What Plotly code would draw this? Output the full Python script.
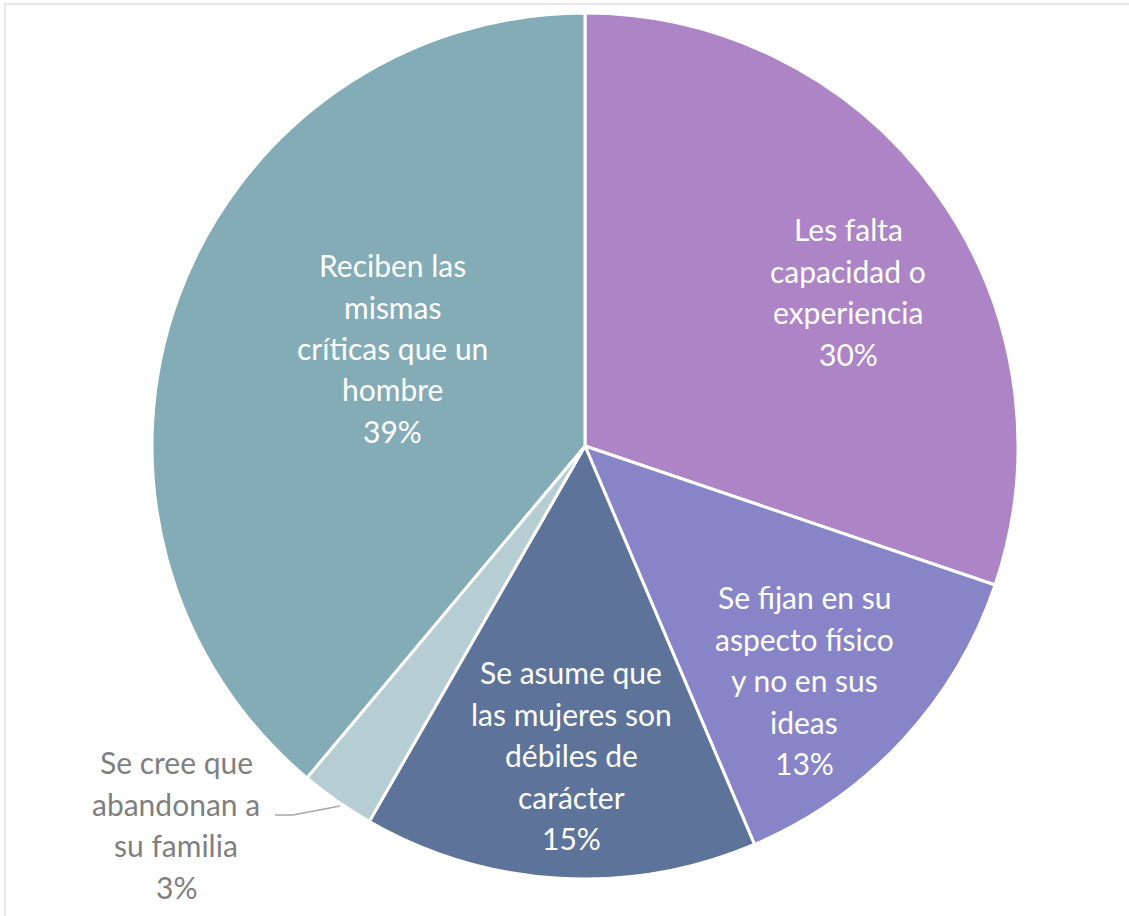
import plotly.graph_objects as go

W, H = 1129, 916

categories = [
    "Les falta capacidad o experiencia",
    "Se fijan en su aspecto físico y no en sus ideas",
    "Se asume que las mujeres son débiles de carácter",
    "Se cree que abandonan a su familia",
    "Reciben las mismas críticas que un hombre",
]
values = [30.2, 13.4, 14.7, 2.8, 38.9]
colors = ["#AD84C6", "#8784C7", "#5D739A", "#B6CDD3", "#84ACB6"]

label_lines = [
    ["Les falta", "capacidad o", "experiencia"],
    ["Se fijan en su", "aspecto físico", "y no en sus", "ideas"],
    ["Se asume que", "las mujeres son", "débiles de", "carácter"],
    ["Se cree que", "abandonan a", "su familia"],
    ["Reciben las", "mismas", "críticas que un", "hombre"],
]
# label block anchors (pixel: x center, y of first line) and colours
label_anchor = [(848, 229), (804, 597), (571, 672), (176, 762), (392, 265)]
label_color = ["white", "white", "white", "#7F7F7F", "white"]
line_gap = 41.5

def px(x):
    return x / W

def py(y):
    return 1 - y / H

cx, cy, r = 585, 446, 433

fig = go.Figure(go.Pie(
    labels=categories,
    values=values,
    sort=False,
    direction="clockwise",
    rotation=0,
    marker=dict(colors=colors, line=dict(color="white", width=3)),
    textinfo="none",
    hoverinfo="label+percent",
    domain=dict(x=[px(cx - r), px(cx + r)], y=[py(cy + r), py(cy - r)]),
    showlegend=False,
))

total = sum(values)
annotations = []
for lines, (ax, ay), col, v in zip(label_lines, label_anchor, label_color, values):
    full = lines + [f"{round(v / total * 100)}%"]
    for i, t in enumerate(full):
        annotations.append(dict(
            x=px(ax), y=py(ay + i * line_gap), xref="paper", yref="paper",
            text=t, showarrow=False, xanchor="center", yanchor="middle",
            font=dict(family="Lato", size=30, color=col),
        ))

shapes = [
    # leader line for small slice
    dict(type="path", xref="paper", yref="paper",
         path=f"M {px(275)} {py(815)} L {px(293)} {py(815)} L {px(340)} {py(806)}",
         line=dict(color="#A6A6A6", width=1.5)),
    # chart frame
    dict(type="rect", xref="paper", yref="paper",
         x0=px(5), x1=1.02, y0=-0.02, y1=py(4),
         line=dict(color="#EAE4F3", width=2), fillcolor="rgba(0,0,0,0)"),
]

fig.update_layout(
    width=W, height=H,
    margin=dict(l=0, r=0, t=0, b=0),
    paper_bgcolor="white", plot_bgcolor="white",
    annotations=annotations,
    shapes=shapes,
)

fig.write_html("out.html",
               config={"displayModeBar": False},
               post_script="document.body.style.margin='0';document.body.style.padding='0';")
